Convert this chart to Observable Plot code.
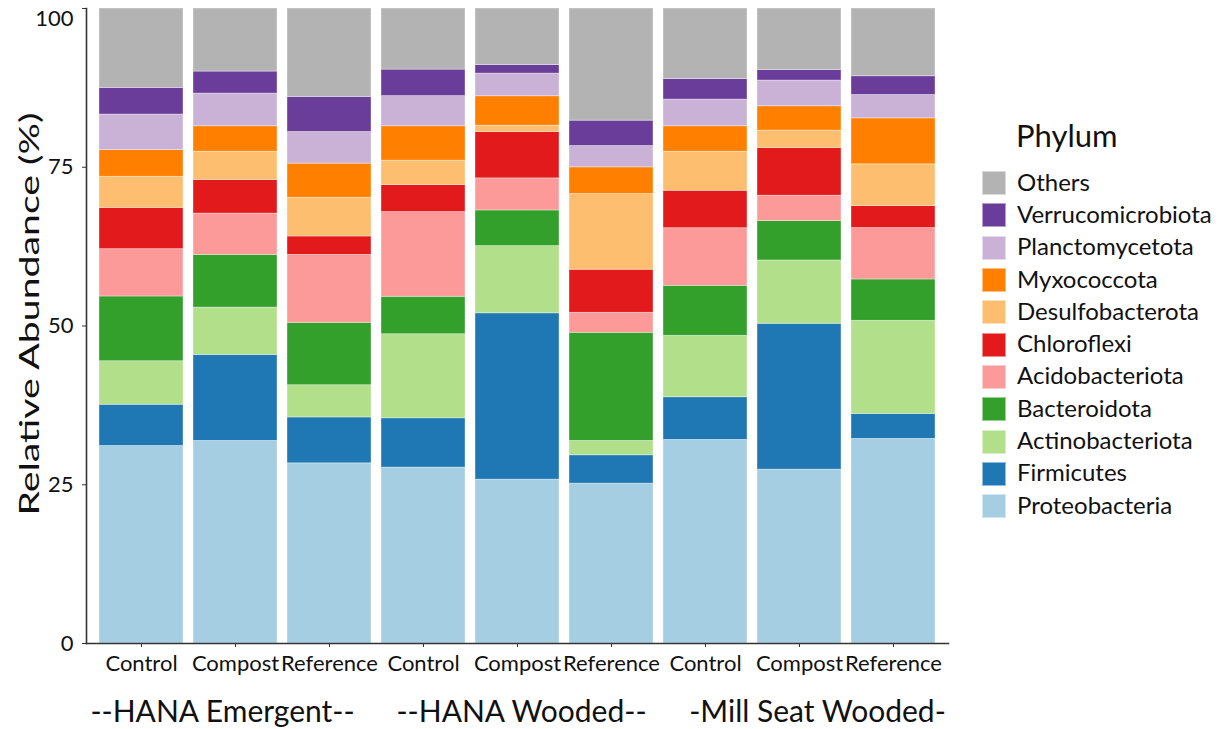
<!DOCTYPE html>
<html>
<head>
<meta charset="utf-8">
<script src="https://cdn.jsdelivr.net/npm/d3@7"></script>
<script src="https://cdn.jsdelivr.net/npm/@observablehq/plot@0.6"></script>
<style>
  body { margin: 0; background: #fff; }
  #chart { position: relative; width: 1220px; height: 729px; font-family: Lato, "Open Sans", sans-serif; color: #111; }
  #chart > svg { position: absolute; left: 0; top: 0; }
  #legend { position: absolute; left: 982px; top: 118px; }
  #legend .title { font-size: 31px; line-height: 34px; height: 34px; margin-left: 34px; margin-bottom: 15px; }
  #legend .row { display: flex; align-items: center; height: 32.3px; }
  #legend .key { width: 24px; height: 24px; box-sizing: border-box; border: 1px solid rgba(255,255,255,0.5); }
  #legend .name { font-size: 24px; margin-left: 11px; position: relative; top: -2px; white-space: nowrap; }
</style>
</head>
<body>
<div id="chart"></div>
<script>
// Sites and treatments of the nine composite samples
const sites = ["HANA Emergent", "HANA Wooded", "Mill Seat Wooded"];
const siteLabels = ["--HANA Emergent--", "--HANA Wooded--", "-Mill Seat Wooded-"];
const treatments = ["Control", "Compost", "Reference"];

// Phyla, stacked from the bottom up, and their fill colours
const phyla = ["Proteobacteria", "Firmicutes", "Actinobacteriota", "Bacteroidota", "Acidobacteriota",
  "Chloroflexi", "Desulfobacterota", "Myxococcota", "Planctomycetota", "Verrucomicrobiota", "Others"];
const phylumColors = ["#a6cee3", "#1f78b4", "#b2df8a", "#33a02c", "#fb9a99",
  "#e31a1c", "#fdbf6f", "#ff7f00", "#cab2d6", "#6a3d9a", "#b3b3b3"];

// Relative abundance (%) per phylum, one value per sample (site by site, Control / Compost / Reference)
const proteobacteria    = [31.10, 31.90, 28.37, 27.70, 25.80, 25.17, 32.06, 27.38, 32.22];
const firmicutes        = [ 6.50, 13.55,  7.23,  7.77, 26.20,  4.47,  6.72, 22.97,  3.94];
const actinobacteriota  = [ 6.85,  7.45,  5.07, 13.23, 10.58,  2.26,  9.67,  9.97, 14.66];
const bacteroidota      = [10.20,  8.30,  9.83,  5.90,  5.62, 17.03,  7.88,  6.20,  6.51];
const acidobacteriota   = [ 7.45,  6.50, 10.70, 13.34,  5.05,  3.15,  9.07,  4.00,  8.09];
const chloroflexi       = [ 6.50,  5.30,  2.90,  4.26,  7.30,  6.78,  5.90,  7.51,  3.46];
const desulfobacterota  = [ 4.90,  4.45,  6.10,  3.84,  1.00, 11.92,  6.15,  2.74,  6.58];
const myxococcota       = [ 4.20,  4.00,  5.37,  5.41,  4.63,  4.20,  4.00,  3.83,  7.24];
const planctomycetota   = [ 5.60,  5.15,  4.98,  4.75,  3.57,  3.36,  4.20,  4.05,  3.68];
const verrucomicrobiota = [ 4.20,  3.47,  5.52,  4.18,  1.35,  4.00,  3.25,  1.67,  2.95];
const others            = [12.50,  9.93, 13.93,  9.62,  8.90, 17.66, 11.10,  9.68, 10.67];

const yTicks = [0, 25, 50, 75, 100];
const yTitle = "Relative Abundance (%)";

const series = [proteobacteria, firmicutes, actinobacteriota, bacteroidota, acidobacteriota,
  chloroflexi, desulfobacterota, myxococcota, planctomycetota, verrucomicrobiota, others];

// One key per bar: "site|treatment"
const samples = sites.flatMap(s => treatments.map(t => `${s}|${t}`));

// Long table for the stacked bars
const rows = [];
phyla.forEach((p, i) => {
  samples.forEach((s, j) => rows.push({sample: s, phylum: p, value: series[i][j]}));
});

// Site captions sit under the middle bar of each site
const siteRows = sites.map((s, i) => ({sample: `${s}|${treatments[1]}`, label: siteLabels[i]}));
const siteShift = [-13, 4, 18];
const topTick = yTicks[yTicks.length - 1];
const titleLength = 403;

const plot = Plot.plot({
  width: 960,
  height: 729,
  marginTop: 8,
  marginBottom: 86,
  marginLeft: 86,
  marginRight: 12,
  style: {fontFamily: "Lato, 'Open Sans', sans-serif", background: "white", color: "#111"},
  x: {domain: samples, paddingInner: 0.106, paddingOuter: 0.138, axis: null},
  y: {domain: [0, 100], axis: null},
  color: {domain: phyla, range: phylumColors},
  marks: [
    Plot.barY(rows, Plot.stackY({
      x: "sample", y: "value", fill: "phylum",
      stroke: "white", strokeOpacity: 0.45, strokeWidth: 0.8
    })),
    Plot.frame({anchor: "left", stroke: "#333", strokeWidth: 1.6}),
    Plot.frame({anchor: "bottom", stroke: "#333", strokeWidth: 1.6}),
    // tick marks and labels; the top label is set a little lower so it stays inside the page
    Plot.axisY({
      ticks: yTicks, tickSize: 4, tickPadding: 9, fontSize: 22, stroke: "#333", label: null,
      tickFormat: d => (d === topTick ? "" : String(d))
    }),
    Plot.axisY({
      ticks: [topTick], tickSize: 0, tickPadding: 13, fontSize: 22, dy: 10, label: null
    }),
    // rotated y title, anchored at its start (bottom end) and stretched to its full length below
    Plot.text([yTitle], {
      text: d => d, frameAnchor: "left", rotate: -90, textAnchor: "start",
      dx: -56, dy: -12 + titleLength / 2, fontSize: 27, fill: "#111"
    }),
    Plot.axisX({
      tickSize: 4, tickPadding: 8, fontSize: 22, stroke: "#333", label: null,
      tickFormat: d => d.split("|")[1]
    }),
    ...siteRows.map((d, i) => Plot.text([d], {
      x: "sample", text: "label", frameAnchor: "bottom", dy: 78, dx: siteShift[i],
      fontSize: 30, fill: "#111"
    }))
  ]
});

const chart = document.getElementById("chart");
chart.appendChild(plot);

// Stretch the y-axis title along its length
plot.querySelectorAll("text").forEach(t => {
  if (t.textContent === yTitle) {
    t.setAttribute("textLength", titleLength);
    t.setAttribute("lengthAdjust", "spacingAndGlyphs");
  }
});

// Legend, top entry first
const colorScale = plot.scale("color");
const legend = document.createElement("div");
legend.id = "legend";
const title = document.createElement("div");
title.className = "title";
title.textContent = "Phylum";
legend.appendChild(title);
phyla.slice().reverse().forEach(p => {
  const row = document.createElement("div");
  row.className = "row";
  const key = document.createElement("div");
  key.className = "key";
  key.style.background = colorScale.apply(p);
  const name = document.createElement("div");
  name.className = "name";
  name.textContent = p;
  row.appendChild(key);
  row.appendChild(name);
  legend.appendChild(row);
});
chart.appendChild(legend);
</script>
</body>
</html>
